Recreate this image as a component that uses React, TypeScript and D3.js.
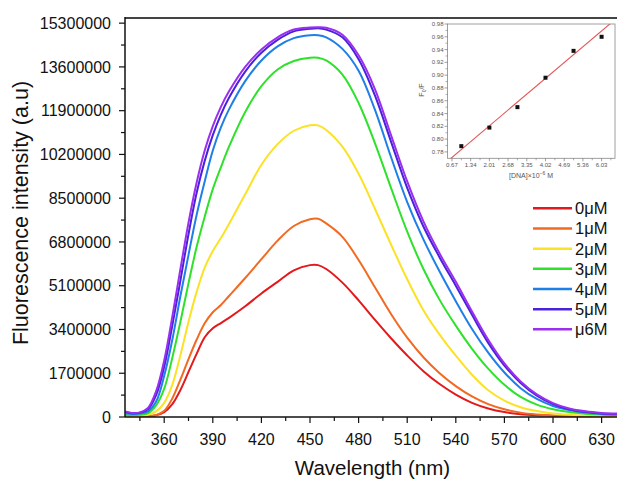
import React from "react";
import * as d3 from "d3";

const WAVELENGTHS = [336, 340, 345, 350, 355, 360, 365, 370, 375, 380, 385, 390, 395, 400, 410, 420, 430, 440, 450, 455, 460, 470, 480, 490, 500, 510, 520, 530, 540, 550, 560, 570, 580, 590, 600, 610, 620, 630, 640];

// values in millions (a.u.)
const C0 = [0.02, 0.01, 0.02, 0.03, 0.07, 0.19, 0.5, 1.05, 1.75, 2.45, 3.1, 3.45, 3.65, 3.85, 4.3, 4.8, 5.25, 5.7, 5.9, 5.9, 5.75, 5.22, 4.53, 3.78, 3.06, 2.39, 1.78, 1.28, 0.87, 0.55, 0.33, 0.19, 0.11, 0.07, 0.05, 0.03, 0.02, 0.02, 0.02];
const C1 = [0.02, 0.02, 0.02, 0.03, 0.07, 0.24, 0.72, 1.45, 2.25, 3.0, 3.64, 4.07, 4.35, 4.7, 5.4, 6.13, 6.85, 7.42, 7.68, 7.7, 7.52, 7.0, 6.1, 5.05, 4.0, 3.08, 2.32, 1.7, 1.2, 0.8, 0.5, 0.3, 0.17, 0.1, 0.06, 0.04, 0.03, 0.03, 0.03];
const C2 = [0.03, 0.03, 0.05, 0.09, 0.22, 0.55, 1.25, 2.4, 3.7, 4.85, 5.8, 6.45, 6.95, 7.5, 8.65, 9.8, 10.6, 11.12, 11.33, 11.33, 11.15, 10.5, 9.45, 8.1, 6.7, 5.35, 4.15, 3.2, 2.38, 1.64, 1.04, 0.64, 0.38, 0.23, 0.14, 0.09, 0.06, 0.05, 0.04];
const C3 = [0.08, 0.07, 0.09, 0.15, 0.45, 1.1, 2.3, 3.7, 5.2, 6.6, 7.78, 8.85, 9.7, 10.5, 11.85, 12.85, 13.5, 13.83, 13.96, 13.96, 13.85, 13.3, 12.2, 10.65, 8.9, 7.2, 5.75, 4.55, 3.55, 2.65, 1.88, 1.25, 0.78, 0.48, 0.3, 0.19, 0.13, 0.1, 0.08];
const C4 = [0.15, 0.12, 0.14, 0.22, 0.6, 1.6, 3.0, 4.7, 6.3, 7.85, 9.15, 10.35, 11.25, 11.95, 13.05, 13.85, 14.4, 14.72, 14.83, 14.83, 14.75, 14.3, 13.45, 11.95, 10.1, 8.35, 6.9, 5.65, 4.5, 3.42, 2.5, 1.73, 1.12, 0.7, 0.43, 0.27, 0.17, 0.12, 0.1];
const C5 = [0.2, 0.15, 0.17, 0.3, 0.85, 1.95, 3.55, 5.3, 7.1, 8.7, 9.95, 10.95, 11.75, 12.4, 13.42, 14.15, 14.65, 14.98, 15.08, 15.1, 15.05, 14.75, 13.9, 12.5, 10.7, 8.9, 7.4, 6.2, 5.1, 3.97, 2.88, 2.0, 1.32, 0.83, 0.5, 0.3, 0.2, 0.14, 0.12];
const C6 = [0.22, 0.16, 0.18, 0.35, 1.0, 2.2, 3.9, 5.75, 7.55, 9.1, 10.35, 11.3, 12.05, 12.65, 13.6, 14.28, 14.75, 15.05, 15.13, 15.14, 15.12, 14.85, 14.05, 12.75, 10.95, 9.15, 7.6, 6.35, 5.25, 4.1, 3.0, 2.08, 1.38, 0.88, 0.54, 0.33, 0.22, 0.16, 0.13];

const SERIES = [C0, C1, C2, C3, C4, C5, C6];
const SERIES_LABELS = ["0μM", "1μM", "2μM", "3μM", "4μM", "5μM", "μ6M"];
const SERIES_COLORS = ["#e3191c", "#f26a22", "#fbe225", "#2ee22b", "#1f7fe8", "#4a22dc", "#9a2ff0"];

const Y_TICKS = [0, 1700000, 3400000, 5100000, 6800000, 8500000, 10200000, 11900000, 13600000, 15300000];
const X_TICKS = [360, 390, 420, 450, 480, 510, 540, 570, 600, 630];

// inset data
const DNA = [1.005, 2.01, 3.015, 4.02, 5.025, 6.03];
const F0F = [0.789, 0.818, 0.85, 0.896, 0.938, 0.96];
const INSET_X_TICKS = ["0.67", "1.34", "2.01", "2.68", "3.35", "4.02", "4.69", "5.36", "6.03"];
const INSET_Y_TICKS = ["0.78", "0.80", "0.82", "0.84", "0.86", "0.88", "0.90", "0.92", "0.94", "0.96", "0.98"];
const FIT_SLOPE = 0.0369;
const FIT_INTERCEPT = 0.7466;

const FONT = "'Liberation Sans', Arial, Helvetica, sans-serif";

export default function App() {
  const W = 617, H = 480;
  const L = 125, R = 617, T = 18, B = 417;
  const x = d3.scaleLinear().domain([335.8, 639.5]).range([L, R]);
  const y = d3.scaleLinear().domain([0, 15500000]).range([B, T]);

  const line = d3
    .line<[number, number]>()
    .x((d) => x(d[0]))
    .y((d) => y(d[1] * 1e6))
    .curve(d3.curveCatmullRom.alpha(0.5));

  const yMinor: number[] = [];
  for (let v = 850000; v <= 15300000; v += 1700000) yMinor.push(v);
  const xMinor: number[] = [];
  for (let v = 345; v <= 639; v += 30) xMinor.push(v);

  // inset
  const iL = 447.5, iR = 615, iT = 24, iB = 158.3;
  const ix = d3.scaleLinear().domain([0.51, 6.51]).range([iL, iR]);
  const iy = d3.scaleLinear().domain([0.77, 0.98]).range([iB, iT]);
  const iyMinor: number[] = [];
  for (let v = 0.79; v < 0.98; v += 0.02) iyMinor.push(v);
  const ixMinor = INSET_X_TICKS.map((t) => +t + 0.335).filter((v) => v < 6.51);
  const fitX0 = 0.3, fitX1 = 7;

  const legendY0 = 208.3, legendStep = 20.17;

  return (
    <svg width={W} height={H} style={{ position: "absolute", left: 0, top: 0, background: "#fff" }} fontFamily={FONT}>
      <defs>
        <clipPath id="plotclip">
          <rect x={L} y={T} width={R - L} height={B - T} />
        </clipPath>
        <clipPath id="insetclip">
          <rect x={iL} y={iT} width={iR - iL} height={iB - iT} />
        </clipPath>
      </defs>
      <rect x={0} y={0} width={W} height={H} fill="#fff" />

      {/* curves */}
      <g clipPath="url(#plotclip)">
        {SERIES.map((s, i) => (
          <path
            key={i}
            d={line(WAVELENGTHS.map((w, j) => [w, s[j]]) as [number, number][]) || ""}
            fill="none"
            stroke={SERIES_COLORS[i]}
            strokeWidth={2}
          />
        ))}
      </g>

      {/* frame */}
      <line x1={L} x2={R} y1={T} y2={T} stroke="#444" strokeWidth={2} />
      <line x1={L} x2={L} y1={T - 1} y2={B} stroke="#111" strokeWidth={1.5} />
      <line x1={L} x2={R} y1={B} y2={B} stroke="#111" strokeWidth={1.5} />

      {/* y axis ticks */}
      {Y_TICKS.map((t) => (
        <g key={t}>
          <line x1={L - 6} x2={L} y1={y(t)} y2={y(t)} stroke="#111" strokeWidth={1.2} />
          <text x={111} y={y(t)} dy="0.36em" textAnchor="end" fontSize={16} fill="#111">
            {d3.format("d")(t)}
          </text>
        </g>
      ))}
      {yMinor.map((t) => (
        <line key={t} x1={L - 4} x2={L} y1={y(t)} y2={y(t)} stroke="#111" strokeWidth={1.2} />
      ))}

      {/* x axis ticks */}
      {X_TICKS.map((t) => (
        <g key={t}>
          <line x1={x(t)} x2={x(t)} y1={B} y2={B + 6} stroke="#111" strokeWidth={1.2} />
          <text x={x(t)} y={445} textAnchor="middle" fontSize={16} fill="#111">
            {t}
          </text>
        </g>
      ))}
      {xMinor.map((t) => (
        <line key={t} x1={x(t)} x2={x(t)} y1={B} y2={B + 4} stroke="#111" strokeWidth={1.2} />
      ))}

      {/* axis titles */}
      <text x={372.5} y={475} textAnchor="middle" fontSize={20.5} fill="#111">
        Wavelength (nm)
      </text>
      <text
        transform={`translate(28,${213}) rotate(-90)`}
        textAnchor="middle"
        fontSize={21.5}
        fill="#111"
      >
        Fluorescence intensity (a.u)
      </text>

      {/* legend */}
      {SERIES_LABELS.map((lab, i) => {
        const ly = legendY0 + i * legendStep;
        return (
          <g key={lab}>
            <line x1={533} x2={572} y1={ly} y2={ly} stroke={SERIES_COLORS[i]} strokeWidth={2.5} />
            <text x={575} y={ly} dy="0.36em" fontSize={16.5} fill="#111">
              {lab}
            </text>
          </g>
        );
      })}

      {/* inset */}
      <g>
        <rect x={iL} y={iT} width={iR - iL} height={iB - iT} fill="#fff" stroke="#888" strokeWidth={0.8} />
        <g clipPath="url(#insetclip)">
          <line
            x1={ix(fitX0)}
            y1={iy(FIT_INTERCEPT + FIT_SLOPE * fitX0)}
            x2={ix(fitX1)}
            y2={iy(FIT_INTERCEPT + FIT_SLOPE * fitX1)}
            stroke="#e25555"
            strokeWidth={1.1}
          />
        </g>
        {DNA.map((d, i) => (
          <rect key={i} x={ix(d) - 2} y={iy(F0F[i]) - 2} width={4} height={4} fill="#111" />
        ))}
        {INSET_Y_TICKS.map((t) => (
          <g key={t}>
            <line x1={iL - 3} x2={iL} y1={iy(+t)} y2={iy(+t)} stroke="#777" strokeWidth={0.7} />
            <text x={iL - 4} y={iy(+t)} dy="0.35em" textAnchor="end" fontSize={6} fill="#555">
              {t}
            </text>
          </g>
        ))}
        {iyMinor.map((t) => (
          <line key={t} x1={iL - 2} x2={iL} y1={iy(t)} y2={iy(t)} stroke="#777" strokeWidth={0.6} />
        ))}
        {INSET_X_TICKS.map((t) => (
          <g key={t}>
            <line x1={ix(+t)} x2={ix(+t)} y1={iB} y2={iB + 3} stroke="#777" strokeWidth={0.7} />
            <text x={ix(+t)} y={iB + 9} textAnchor="middle" fontSize={6} fill="#555">
              {t}
            </text>
          </g>
        ))}
        {ixMinor.map((t) => (
          <line key={t} x1={ix(t)} x2={ix(t)} y1={iB} y2={iB + 2} stroke="#777" strokeWidth={0.6} />
        ))}
        <text x={531} y={178} textAnchor="middle" fontSize={7} fill="#555">
          [DNA]×10
          <tspan dy={-3} fontSize={5}>−6</tspan>
          <tspan dy={3}> M</tspan>
        </text>
        <text transform={`translate(424,${90}) rotate(-90)`} textAnchor="middle" fontSize={7} fill="#555">
          F<tspan dy={2} fontSize={5}>0</tspan>
          <tspan dy={-2}>/F</tspan>
        </text>
      </g>
    </svg>
  );
}
